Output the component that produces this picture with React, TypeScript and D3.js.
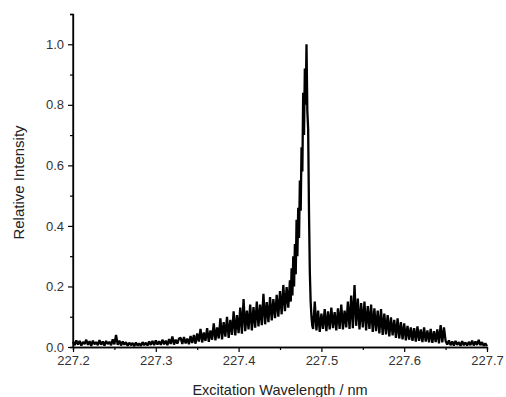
import { useEffect, useRef } from 'react'
import * as d3 from 'd3'

// spectrum segments: [start wavelength, step, intensities]
const baselineLeftStart = 227.2
const baselineLeft = [
  0.018, 0.006, 0.022, 0.008, 0.020, 0.005, 0.017, 0.010, 0.024, 0.007,
  0.019, 0.004, 0.021, 0.009, 0.016, 0.006, 0.023, 0.008, 0.018, 0.005,
  0.020, 0.010, 0.017, 0.006, 0.025, 0.009, 0.040, 0.007, 0.021, 0.005,
  0.018, 0.008, 0.016, 0.004, 0.014, 0.006, 0.013, 0.003, 0.015, 0.005,
  0.012, 0.004, 0.016, 0.006, 0.014, 0.005, 0.018, 0.007, 0.020, 0.006,
  0.022, 0.008, 0.019, 0.007, 0.024, 0.009, 0.021, 0.006, 0.026, 0.010,
  0.035, 0.008, 0.024, 0.011, 0.028,
]

const leftWingStart = 227.33
const leftWing = [
  0.030, 0.010, 0.033, 0.012, 0.028, 0.009, 0.036, 0.013, 0.040, 0.011,
  0.045, 0.018, 0.060, 0.015, 0.048, 0.020, 0.062, 0.017, 0.055, 0.024,
  0.078, 0.022, 0.065, 0.028, 0.095, 0.025, 0.082, 0.034, 0.100, 0.030,
  0.090, 0.040, 0.118, 0.038, 0.105, 0.046, 0.130, 0.044, 0.158, 0.052,
  0.120, 0.058, 0.140, 0.055, 0.132, 0.064, 0.150, 0.068, 0.140, 0.072,
  0.176, 0.075, 0.148, 0.082, 0.165, 0.088, 0.158, 0.095, 0.172, 0.100,
  0.185, 0.108, 0.205, 0.118, 0.198, 0.130,
]

// finer sampling around the line centre
const peakStart = 227.462
const peak = [
  0.22, 0.15, 0.26, 0.17, 0.30, 0.20, 0.34, 0.24, 0.42, 0.30,
  0.46, 0.36, 0.55, 0.45, 0.66, 0.58, 0.84, 0.70, 0.92, 0.80,
  1.00, 0.78, 0.72, 0.45, 0.25, 0.15, 0.10, 0.07,
]

const rightWingStart = 227.49
const rightWing = [
  0.060, 0.150, 0.055, 0.120, 0.050, 0.110, 0.060, 0.125, 0.052, 0.118,
  0.058, 0.130, 0.062, 0.115, 0.055, 0.128, 0.060, 0.140, 0.058, 0.120,
  0.065, 0.150, 0.060, 0.170, 0.062, 0.205, 0.070, 0.160, 0.058, 0.145,
  0.065, 0.150, 0.055, 0.135, 0.060, 0.140, 0.050, 0.128, 0.052, 0.120,
  0.045, 0.125, 0.040, 0.110, 0.042, 0.105, 0.035, 0.098, 0.038, 0.090,
  0.030, 0.095, 0.028, 0.082, 0.025, 0.078, 0.022, 0.070, 0.024, 0.065,
  0.020, 0.062, 0.018, 0.068, 0.020, 0.058, 0.016, 0.065, 0.018, 0.055,
  0.015, 0.060, 0.014, 0.052, 0.016, 0.058, 0.012, 0.072, 0.015, 0.065,
  0.020,
]

const baselineRightStart = 227.652
const baselineRight = [
  0.008, 0.022, 0.006, 0.018, 0.005, 0.020, 0.007, 0.016, 0.004, 0.019,
  0.006, 0.015, 0.005, 0.017, 0.006, 0.021, 0.005, 0.018, 0.007, 0.024,
  0.006, 0.016, 0.004, 0.012, 0.003,
]

const xTicks = [227.2, 227.3, 227.4, 227.5, 227.6, 227.7]
const yTicks = [0, 0.2, 0.4, 0.6, 0.8, 1.0]

const segments: [number, number, number[]][] = [
  [baselineLeftStart, 0.002, baselineLeft],
  [leftWingStart, 0.002, leftWing],
  [peakStart, 0.001, peak],
  [rightWingStart, 0.002, rightWing],
  [baselineRightStart, 0.002, baselineRight],
]
const spectrum = segments.flatMap(([x0, dx, ys]) => ys.map((y, i) => ({ x: x0 + i * dx, y })))

const W = 506, H = 397
const FONT = 'Liberation Sans, Arial, sans-serif'

export default function App() {
  const ref = useRef<SVGSVGElement>(null)

  useEffect(() => {
    const svg = d3.select(ref.current!)
    svg.selectAll('*').remove()
    const m = { t: 14, r: 19, b: 50, l: 73 }
    const iW = W - m.l - m.r, iH = H - m.t - m.b
    const x = d3.scaleLinear().domain([227.2, 227.7]).range([0, iW])
    const y = d3.scaleLinear().domain([0, 1.1]).range([iH, 0])
    const g = svg.append('g').attr('transform', `translate(${m.l},${m.t})`)

    // spectrum
    const line = d3.line<{ x: number, y: number }>().x(d => x(d.x)).y(d => y(d.y))
    g.append('path').datum(spectrum).attr('d', line).attr('fill', 'none')
      .attr('stroke', '#000').attr('stroke-width', 2.3).attr('stroke-linejoin', 'bevel')

    // minor ticks
    const xMinor = xTicks.slice(0, -1).map(t => t + 0.05)
    const yMinor = yTicks.map(t => t + 0.1)
    g.append('g').attr('transform', `translate(0,${iH})`)
      .call(d3.axisBottom(x).tickValues(xMinor).tickSize(3).tickFormat(() => ''))
    g.append('g').call(d3.axisLeft(y).tickValues(yMinor).tickSize(3).tickFormat(() => ''))

    // major axes
    const xa = g.append('g').attr('transform', `translate(0,${iH})`)
      .call(d3.axisBottom(x).tickValues(xTicks).tickSize(5).tickSizeOuter(0).tickPadding(4).tickFormat(d3.format('.1f')))
    const ya = g.append('g')
      .call(d3.axisLeft(y).tickValues(yTicks).tickSize(5).tickSizeOuter(0).tickPadding(4).tickFormat(d3.format('.1f')))
    ya.select('.domain').attr('d', `M0,${iH}V0`)
    svg.selectAll('.domain').attr('stroke', '#000').attr('stroke-width', 1.3)
    svg.selectAll('.tick line').attr('stroke', '#000').attr('stroke-width', 1.2)
    ;[xa, ya].forEach(a => a.selectAll('text')
      .attr('font-family', FONT).attr('font-size', 13).attr('fill', '#333'))

    // axis titles
    svg.append('text').attr('x', m.l + iW / 2).attr('y', H - 2).attr('text-anchor', 'middle')
      .attr('font-family', FONT).attr('font-size', 14.5).attr('fill', '#222')
      .text('Excitation Wavelength / nm')
    svg.append('text').attr('transform', `translate(24,${m.t + iH / 2 + 2}) rotate(-90)`)
      .attr('text-anchor', 'middle').attr('font-family', FONT).attr('font-size', 15).attr('fill', '#222')
      .text('Relative Intensity')
  }, [])

  return (
    <div style={{ position: 'fixed', left: 0, top: 0 }}>
      <svg ref={ref} width={W} height={H} style={{ display: 'block', background: '#fff' }}/>
    </div>
  )
}
